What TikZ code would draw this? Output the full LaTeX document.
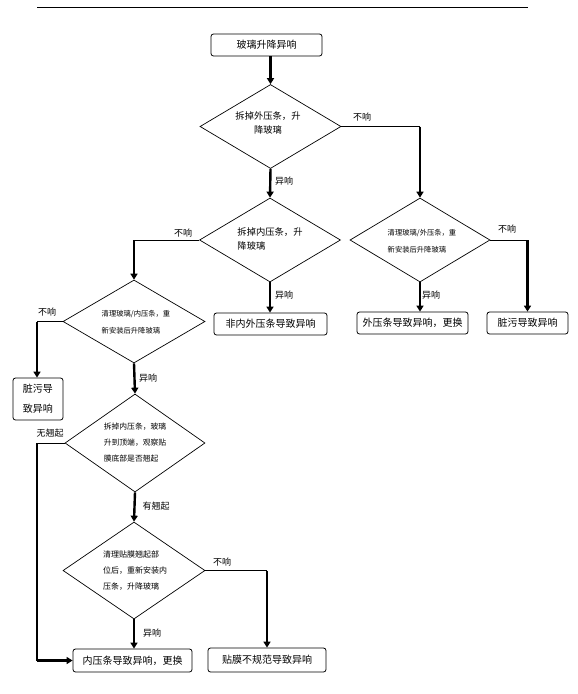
\documentclass[tikz,border=0pt]{standalone}
\usepackage{fontspec}
\setmainfont{Noto Sans CJK SC}
\usetikzlibrary{shapes.geometric,arrows.meta}
\tikzset{
  box/.style={draw, line width=0.8pt, rounded corners=2.5pt, inner sep=0pt, font=\fontsize{10}{11}\selectfont},
  dia/.style={draw, diamond, line width=0.7pt, inner sep=0pt, minimum width=141pt, minimum height=84pt},
  dtext/.style={font=\fontsize{9.3}{13.5}\selectfont, align=left, inner sep=0pt},
  stext/.style={font=\fontsize{7.8}{16}\selectfont, align=left, inner sep=0pt},
  lab/.style={font=\fontsize{9}{11}\selectfont, inner sep=0pt},
  thinl/.style={line width=0.8pt},
  arr/.style={line width=2.4pt, -{Triangle[length=6pt,width=7pt]}},
  thk/.style={line width=2.4pt},
}
\begin{document}
\begin{tikzpicture}[x=1pt,y=-1pt]
\useasboundingbox (0,0) rectangle (578,694);
\coordinate (tl) at (37,7);
\coordinate (tr) at (528,7);
\draw[line width=0.8pt] (tl) -- (tr);
\coordinate (lx) at (37,0);

% boxes
\node[box, minimum width=111pt, minimum height=22pt] (b1) at (266.5,45) {玻璃升降异响};
\node[box, minimum width=113pt, minimum height=22pt] (b2) at (270.5,324) {非内外压条导致异响};
\node[box, minimum width=111pt, minimum height=22pt] (b3) at (412.5,323) {外压条导致异响，更换};
\node[box, minimum width=81pt, minimum height=22pt] (b4) at (527.5,323) {脏污导致异响};
\node[box, minimum width=50pt, minimum height=42pt, align=center, font=\fontsize{10}{20}\selectfont] (b5) at (38,399) {脏污导\\致异响};
\node[box, minimum width=119pt, minimum height=23pt] (b6) at (132.5,660.5) {内压条导致异响，更换};
\node[box, minimum width=118pt, minimum height=24pt] (b7) at (267,660) {贴膜不规范导致异响};

% diamonds
\node[dia] (d1) at (270.5,126.5) {};
\node[dtext, align=center] at (268,123) {拆掉外压条，升\\降玻璃};
\node[dia] (d2) at (270,240) {};
\node[dtext] at (270,239) {拆掉内压条，升\\降玻璃};
\node[dia, minimum width=140pt] (d3) at (420,240) {};
\node[stext, font=\fontsize{7.3}{17}\selectfont] at (422,241) {清理玻璃/外压条，重\\新安装后升降玻璃};
\node[dia, minimum width=142pt, minimum height=83pt] (d4) at (134,321.5) {};
\node[stext, font=\fontsize{7.3}{17}\selectfont] at (136,322) {清理玻璃/内压条，重\\新安装后升降玻璃};
\node[dia, minimum width=140pt, minimum height=98pt] (d5) at (135,443) {};
\node[stext] at (135,443) {拆掉内压条，玻璃\\升到顶端，观察贴\\膜底部是否翘起};
\node[dia, minimum width=142pt, minimum height=97pt] (d6) at (134,570.5) {};
\node[stext, font=\fontsize{8}{16}\selectfont] at (135,571) {清理贴膜翘起部\\位后，重新安装内\\压条，升降玻璃};

% connectors
\draw[arr] (b1.south -| d1.north) -- (d1.north);
\draw[arr] (d1.south) -- (d2.north);
\draw[thinl] (d1.east) -- (d1.east -| d3.north);
\draw[arr] (d1.east -| d3.north) -- (d3.north);
\draw[arr] (d2.south) -- (b2.north -| d2.south);
\draw[thinl] (d2.west) -- (d2.west -| d4.north);
\draw[arr] (d2.west -| d4.north) -- (d4.north);
\draw[arr] (d3.south) -- (b3.north -| d3.south);
\draw[thinl] (d3.east) -- (d3.east -| b4.north);
\draw[arr] (d3.east -| b4.north) -- (b4.north);
\draw[thinl] (d4.west) -- (d4.west -| lx);
\draw[arr] (d4.west -| lx) -- (b5.north -| lx);
\draw[arr] (d4.south) -- (d5.north);
\draw[arr] (d5.south) -- (d6.north);
\draw[thinl] (d5.west) -- (d5.west -| lx);
\draw[thk] (d5.west -| lx) -- (b6.west -| lx);
\draw[arr] (b6.west -| lx) -- (b6.west);
\draw[arr] (d6.south) -- (b6.north -| d6.south);
\draw[thinl] (d6.east) -- (d6.east -| b7.north);
\draw[arr] (d6.east -| b7.north) -- (b7.north);

% labels
\node[lab] (l1) at (362,117) {不响};
\node[lab] (l2) at (284,181) {异响};
\node[lab] (l3) at (183,233) {不响};
\node[lab] (l4) at (284,295) {异响};
\node[lab] (l5) at (507,229) {不响};
\node[lab] (l6) at (431,295) {异响};
\node[lab] (l7) at (47,312) {不响};
\node[lab] (l8) at (148,378) {异响};
\node[lab] (l9) at (50,433) {无翘起};
\node[lab] (l10) at (156,506) {有翘起};
\node[lab] (l11) at (222,562) {不响};
\node[lab] (l12) at (152,633) {异响};
\end{tikzpicture}
\end{document}
